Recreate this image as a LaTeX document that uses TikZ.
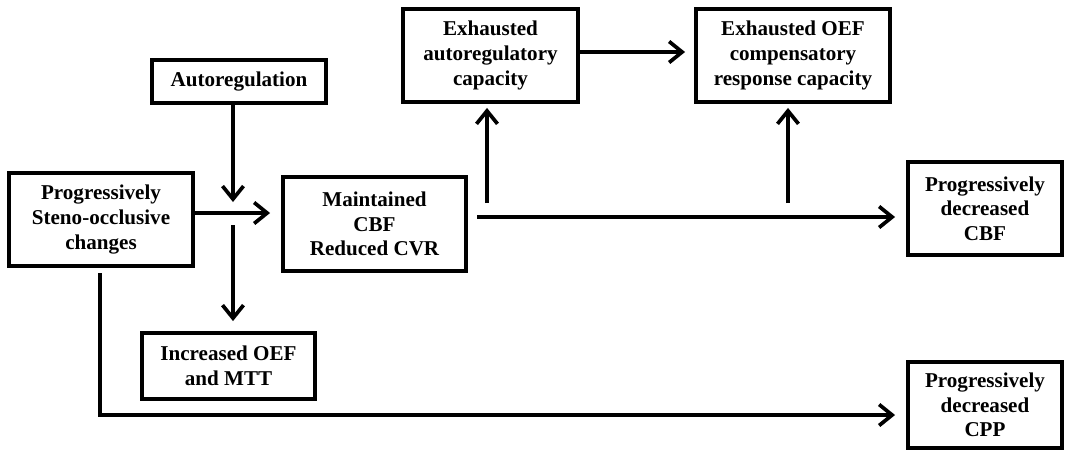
\documentclass[tikz,border=0pt]{standalone}
\usepackage{fontspec}
\setmainfont{Liberation Serif}
\usetikzlibrary{arrows.meta}
\tikzset{
	box/.style={draw, line width=2.2pt, align=center, inner sep=2pt, font=\bfseries\fontsize{12}{14}\selectfont},
	flow/.style={line width=2.1pt, -{Straight Barb[length=2.6mm, width=4.2mm, line width=2.1pt]}}
}
\begin{document}
\begin{tikzpicture}
	\useasboundingbox (0, 0) rectangle (21.32, -9.02);
	\node[box, minimum width=3.68cm, minimum height=1.86cm] (steno) at (2.02, -4.39) {Progressively\\Steno-occlusive\\changes};
	\node[box, minimum width=3.48cm, minimum height=0.86cm] (autoreg) at (4.78, -1.63) {Autoregulation};
	\node[box, minimum width=3.66cm, minimum height=1.88cm] (maint) at (7.49, -4.48) {Maintained\\CBF\\Reduced CVR};
	\node[box, minimum width=3.46cm, minimum height=1.32cm] (incr) at (4.57, -7.32) {Increased OEF\\and MTT};
	\node[box, minimum width=3.5cm, minimum height=1.86cm] (exauto) at (9.81, -1.11) {Exhausted\\autoregulatory\\capacity};
	\node[box, minimum width=3.88cm, minimum height=1.86cm] (exoef) at (15.86, -1.11) {Exhausted OEF\\compensatory\\response capacity};
	\node[box, minimum width=3.08cm, minimum height=1.86cm] (cbf) at (19.7, -4.17) {Progressively\\decreased\\CBF};
	\node[box, minimum width=3.08cm, minimum height=1.72cm] (cpp) at (19.7, -8.1) {Progressively\\decreased\\CPP};
	\coordinate (ajoin) at (4.66, -4.04);
	\coordinate (ostart) at (4.66, -4.5);
	\coordinate (srow) at (3.86, -4.26);
	\coordinate (pstart) at (2.0, -5.46);
	\coordinate (pturn) at (2.0, -8.3);
	\coordinate (mstart) at (9.54, -4.34);
	\coordinate (ustart) at (9.74, -4.06);
	\coordinate (vstart) at (15.76, -4.06);
	\draw[flow] (autoreg.south -| ajoin) to (ajoin);
	\draw[flow, shorten >=0.22cm] (srow) to (maint.west |- srow);
	\draw[flow, shorten >=0.2cm] (ostart) to (incr.north -| ostart);
	\draw[flow, shorten >=0.22cm] (pstart) to (pturn) to (cpp.west |- pturn);
	\draw[flow, shorten >=0.22cm] (mstart) to (cbf.west |- mstart);
	\draw[flow, shorten >=0.08cm] (ustart) to (exauto.south -| ustart);
	\draw[flow, shorten >=0.08cm] (vstart) to (exoef.south -| vstart);
	\draw[flow, shorten >=0.18cm] (exauto.east |- 0, -1.04) to (exoef.west |- 0, -1.04);
\end{tikzpicture}
\end{document}
